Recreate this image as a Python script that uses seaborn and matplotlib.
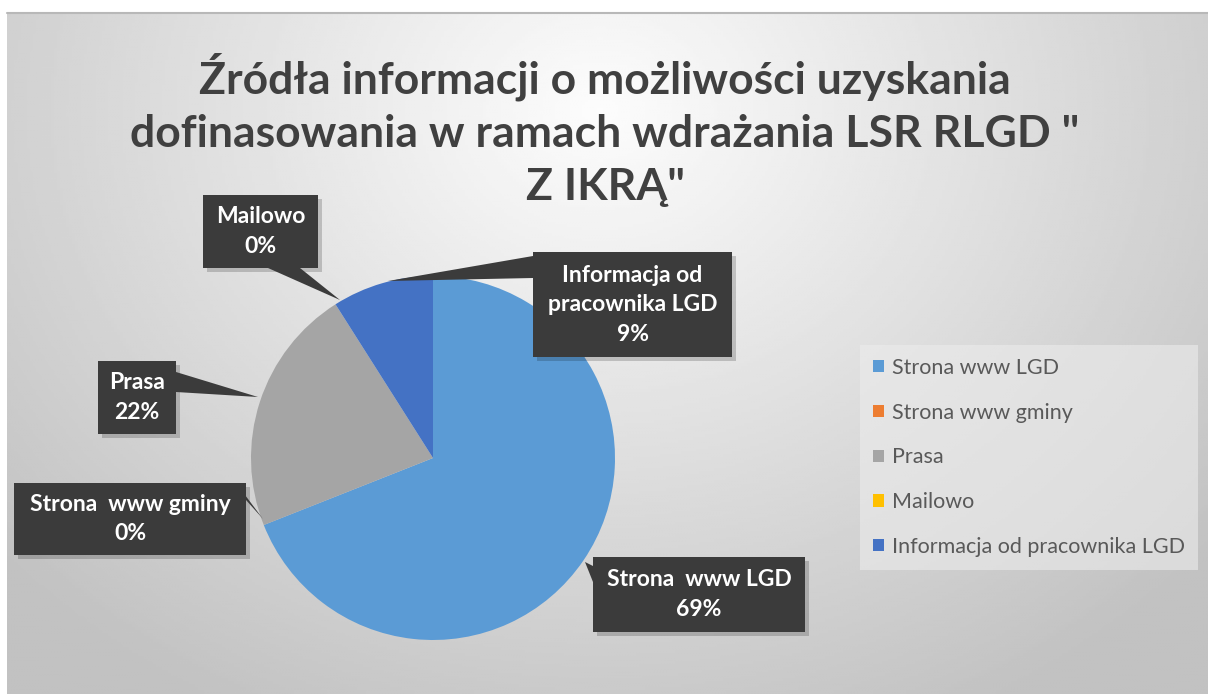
import numpy as np
import matplotlib.pyplot as plt
import seaborn as sns
from matplotlib.patches import Rectangle, Polygon

sns.set_theme(style="white")
plt.rcParams['font.family'] = ['Lato', 'DejaVu Sans']

# =====================
# Data
# =====================
categories = ['Strona www LGD', 'Strona www gminy', 'Prasa', 'Mailowo',
              'Informacja od pracownika LGD']
values = [69, 0, 22, 0, 9]
colors = ['#5B9BD5', '#ED7D31', '#A5A5A5', '#FFC000', '#4472C4']
label_texts = ['Strona  www LGD', 'Strona  www gminy', 'Prasa', 'Mailowo',
               'Informacja od\npracownika LGD']

title = 'Źródła informacji o możliwości uzyskania\ndofinasowania w ramach wdrażania LSR RLGD "\nZ IKRĄ"'

# =====================
# Figure (work in pixel coords, y up)
# =====================
W, H = 1208, 694
fig = plt.figure(figsize=(W / 100, H / 100), dpi=100)
ax = fig.add_axes([0, 0, 1, 1])

# gray radial gradient background
x0, y0 = 7, 0
x1, y1 = W, H - 13
gx, gy = np.meshgrid(np.linspace(x0, x1, 400), np.linspace(y0, y1, 240))
d = np.sqrt(((gx - 600) / 800) ** 2 + ((gy - (H - 110)) / 680) ** 2)
shade = np.clip(0.99 - 0.23 * d, 0.76, 1)
ax.imshow(shade, cmap='gray', vmin=0, vmax=1, extent=(x0, x1, y0, y1),
          origin='lower', aspect='auto', zorder=0)
ax.plot([x0, x1], [y1, y1], color='#b8b8b8', lw=1.5, zorder=1)

# =====================
# Pie
# =====================
cx, cy, r = 433, H - 458, 182
wedges, _ = ax.pie(values, colors=colors, startangle=90, counterclock=False,
                   center=(cx, cy), radius=r, frame=True,
                   wedgeprops=dict(linewidth=0, zorder=3))
ax.set_xlim(0, W)
ax.set_ylim(0, H)
ax.axis('off')

# =====================
# Data labels (callout boxes)
# =====================
# box in image px: (left, top, right, bottom), leader base pts, tip
boxes = [
    ((593, 557, 805, 632), [(593, 566), (593, 582)], (585, 562)),
    ((14, 483, 246, 555), [(236, 483), (246, 500)], (263, 519)),
    ((98, 361, 176, 434), [(176, 372), (176, 392)], (258, 397)),
    ((203, 195, 318, 268), [(268, 268), (300, 268)], (340, 300)),
    ((533, 252, 732, 357), [(533, 256), (533, 278)], (388, 281)),
]
box_col = '#3b3b3b'
for i, (box, base, tip) in enumerate(boxes):
    l, t, rr, b = box
    # shadow
    ax.add_patch(Rectangle((l + 4, H - b - 4), rr - l, b - t, color='#000000',
                           alpha=0.18, lw=0, zorder=4))
    ax.add_patch(Polygon([(base[0][0], H - base[0][1]), (base[1][0], H - base[1][1]),
                          (tip[0], H - tip[1])], closed=True, color=box_col,
                         lw=0, zorder=5))
    ax.add_patch(Rectangle((l, H - b), rr - l, b - t, color=box_col, lw=0, zorder=5))
    pct = f"{values[i]}%"
    ax.text((l + rr) / 2, H - (t + b) / 2, label_texts[i] + '\n' + pct,
            ha='center', va='center', color='white', fontsize=16.5,
            fontweight='bold', linespacing=1.5, zorder=6)

# =====================
# Title
# =====================
ax.text(605, H - 130, title, ha='center', va='center', fontsize=32,
        fontweight='bold', color='#404040', linespacing=1.4, zorder=6)

# =====================
# Legend
# =====================
leg = ax.legend(wedges, categories, loc='upper left',
                bbox_to_anchor=(860 / W, 1 - 345 / H), frameon=True,
                fontsize=15.5, labelcolor='#595959', handlelength=0.5,
                handleheight=0.5, handletextpad=0.4, labelspacing=1.15,
                borderpad=0.6, borderaxespad=0, fancybox=False)
leg.get_frame().set_facecolor('#ececec')
leg.get_frame().set_alpha(0.6)
leg.get_frame().set_linewidth(0)
leg.set_zorder(6)

plt.savefig('out.png', dpi=100)
